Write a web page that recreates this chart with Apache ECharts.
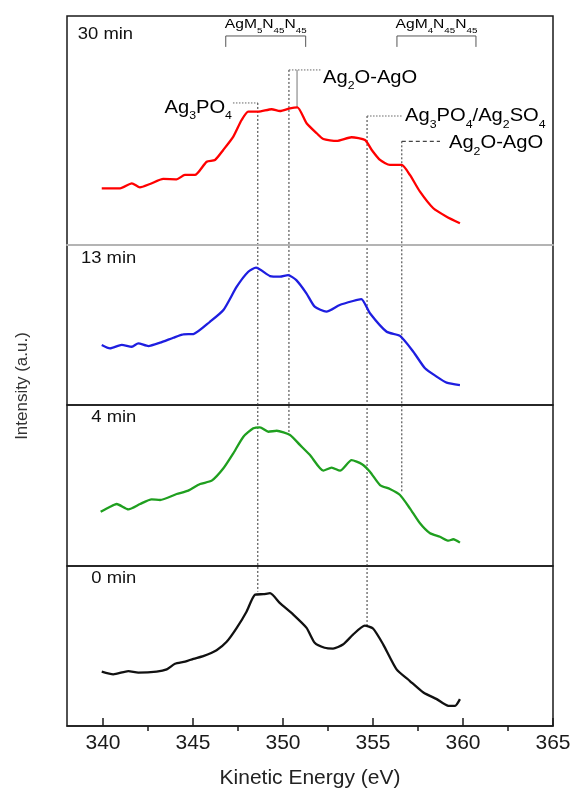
<!DOCTYPE html>
<html><head><meta charset="utf-8">
<script src="https://cdn.jsdelivr.net/npm/echarts@6/dist/echarts.min.js"></script>
<style>html,body{margin:0;padding:0;background:#fff}#c{width:574px;height:790px}</style>
</head><body><div id="c"></div>
<script>
// ---- data (kinetic energy in eV, intensity in a.u. per panel) ----
const energy30 = [339.93,340.95,341.6,342.05,342.61,343.35,344.09,344.55,345.11,345.76,346.22,346.68,347.24,347.7,348.07,348.63,349.37,349.83,350.39,350.8,351.31,351.87,352.24,352.98,353.81,354.56,354.93,355.39,355.94,356.59,357.05,357.61,358.35,359.09,359.83];
const intensity30 = [35.2,35.2,38.3,35.8,37.9,41,40.8,43.5,43.5,51.7,52.8,59,67.3,77.6,82.8,82.8,84.3,83.2,84.9,85.5,75.6,69.4,65.8,64.6,66.9,65.2,59,52.8,49.7,49.7,43.5,33.1,22.8,17.6,13.5];
const energy13 = [339.93,340.39,341.04,341.6,341.96,342.52,343.17,343.91,344.46,345.02,345.94,346.69,347.43,348.07,348.5,349.28,349.83,350.28,350.74,351.3,351.76,352.41,353.15,353.89,354.35,354.83,355.76,356.5,357.24,357.89,358.54,359.09,359.83];
const intensity13 = [37.3,35.2,37.3,36.2,38.3,36.6,38.7,41.8,43.9,44.1,51.7,59,73.5,82.8,85.3,80.1,79.7,80.7,77.6,69.4,61.1,58,62.1,64.6,65.8,57,45.5,42.9,33.1,22.8,17.6,13.9,12.4];
const energy4 = [339.87,340.39,340.76,341.41,342.06,342.7,343.17,344.09,344.74,345.39,346.04,346.69,347.24,347.8,348.35,348.72,349.19,349.65,350.39,350.94,351.5,352.24,352.7,353.17,353.81,354.37,354.83,355.39,355.94,356.5,357.05,357.61,358.17,358.72,359.19,359.46,359.83];
const intensity4 = [33.7,36.8,38.5,35.2,38.5,41.4,41,44.7,46.8,50.9,53,60.7,70,80.3,85.5,86.1,83.4,84,81.4,75.2,68.9,59.2,61.1,59.2,65.8,63.4,58.6,50.3,47.8,44.1,35.8,26.5,20.3,18.2,15.7,16.6,14.5];
const energy0 = [339.93,340.57,341.41,341.96,342.98,343.54,344.0,344.56,345.02,345.57,346.31,346.87,347.43,347.98,348.44,348.91,349.28,349.83,350.57,351.31,351.76,352.31,352.78,353.33,353.89,354.54,355.0,355.57,356.31,357.05,357.8,358.54,359.19,359.56,359.83];
const intensity0 = [34,32.3,34.3,33.4,34,35.4,38.9,40.2,42,43.7,47.4,52.6,61.3,71.6,82,82.4,83,76.8,69.6,61.3,52,48.9,48.4,50.9,57.1,62.7,60.9,50.9,35.4,28.1,20.9,16.8,12.6,12.6,16.8];

const panelNames = ['30 min','13 min','4 min','0 min'];
const xTicks = [340,345,350,355,360,365];
const xMinorTicks = [342.5,347.5,352.5,357.5,362.5];
const xMin = 338, xMax = 365;
const yMax = [142.2, 99.4, 100, 100];

// annotation positions (data units)
const dropE = [348.6, 350.33, 354.67, 356.6];
const dropTopY = [88.2, 108.7, 80.1, 64.4];
const dropEndPanel = [3, 2, 3, 2];
const dropEndY = [84, 82.6, 62.7, 45.3];
const leaderFromE = [347.22, 350.33, 354.67, 356.6];
const leaderToE = [348.6, 352.11, 356.67, 358.72];
const phaseLabels = ['{m|Ag}{s|3}{m|PO}{s|4}', '{m|Ag}{s|2}{m|O-AgO}', '{m|Ag}{s|3}{m|PO}{s|4}{m|/Ag}{s|2}{m|SO}{s|4}', '{m|Ag}{s|2}{m|O-AgO}'];
const peakMarkE = 350.78, peakMarkTop = 108.7, peakMarkBottom = 85.7;
const bracketRanges = [[346.82, 351.26], [356.33, 360.72]];
const bracketY = 129.8, bracketEndY = 123, bracketLabelY = 136.6;
const bracketLabels = ['{m|AgM}{s|5}{m|N}{s|45}{m|N}{s|45}', '{m|AgM}{s|4}{m|N}{s|45}{m|N}{s|45}'];
const panelLabelE = [338.6, 338.78, 339.35, 339.35];
const panelLabelY = [130.4, 90.7, 91.9, 91.9];

const energies = [energy30, energy13, energy4, energy0];
const intensities = [intensity30, intensity13, intensity4, intensity0];
const colors = ['#ff0000', '#1e1ee0', '#1f9f1f', '#111111'];
const FONT = '"Liberation Sans", Arial, sans-serif';

const gridTops = [16, 245, 405, 566];
const gridHeights = [229, 160, 161, 161];

const grids = gridTops.map((t, i) => ({
  left: 67, right: 21, top: t, height: gridHeights[i],
  show: true, borderColor: '#1a1a1a', borderWidth: 1.5, backgroundColor: 'transparent', z: 0
}));

const xAxes = gridTops.map((t, i) => {
  const base = {
    gridIndex: i, type: 'value', min: xMin, max: xMax,
    splitLine: {show: false}, axisTick: {show: false}, axisLabel: {show: false},
    axisLine: {show: false}
  };
  if (i === 0) {
    base.axisLine = {show: true, lineStyle: {color: '#b4b4b4', width: 2}};
    base.z = 5;
  }
  if (i === 3) {
    base.axisLine = {show: true, onZero: false, lineStyle: {color: '#1a1a1a', width: 1.5}};
    base.axisTick = {show: true, inside: true, length: 8, customValues: xTicks, lineStyle: {color: '#1a1a1a', width: 1.5}};
    base.axisLabel = {show: true, customValues: xTicks, fontSize: 21, color: '#1a1a1a', margin: 7, fontFamily: FONT};
    base.name = 'Kinetic Energy (eV)';
    base.nameLocation = 'middle';
    base.nameGap = 42;
    base.nameTextStyle = {fontSize: 21, color: '#222', fontFamily: FONT};
  }
  return base;
});
xAxes.push({
  gridIndex: 3, type: 'value', min: xMin, max: xMax,
  splitLine: {show: false}, axisLine: {show: false}, axisLabel: {show: false},
  axisTick: {show: true, inside: true, length: 5, customValues: xMinorTicks, lineStyle: {color: '#1a1a1a', width: 1.5}}
});

const yAxes = gridTops.map((t, i) => ({
  gridIndex: i, type: 'value', min: 0, max: yMax[i], show: false
}));

const series = energies.map((e, i) => ({
  type: 'line', xAxisIndex: i, yAxisIndex: i, showSymbol: false, symbol: 'none', smooth: 0.2,
  data: e.map((x, k) => [x, intensities[i][k]]),
  lineStyle: {color: colors[i], width: 2.3}, z: 3, animation: false
}));

const chart = echarts.init(document.getElementById('c'), null, {renderer: 'canvas'});
chart.setOption({
  animation: false,
  backgroundColor: '#fff',
  grid: grids, xAxis: xAxes, yAxis: yAxes, series: series
});

const P = (g, x, y) => chart.convertToPixel({seriesIndex: g}, [x, y]);
const g = [];
const dotted = {stroke: '#333', lineWidth: 1, lineDash: [2, 2]};

// vertical drop lines
dropE.forEach((e, i) => {
  const a = P(0, e, dropTopY[i]);
  const b = P(dropEndPanel[i], e, dropEndY[i]);
  g.push({type: 'line', shape: {x1: a[0], y1: a[1], x2: b[0], y2: b[1]}, style: dotted, z: 1, silent: true});
});
// leaders
leaderFromE.forEach((e, i) => {
  const a = P(0, e, dropTopY[i]);
  const b = P(0, leaderToE[i], dropTopY[i]);
  const st = i === 3 ? {stroke: '#444', lineWidth: 1.2, lineDash: [4, 3]} : {stroke: '#666', lineWidth: 1, lineDash: [1.5, 1.5]};
  g.push({type: 'line', shape: {x1: a[0], y1: a[1], x2: b[0], y2: b[1]}, style: st, z: 1, silent: true});
});
{
  const a = P(0, peakMarkE, peakMarkTop), b = P(0, peakMarkE, peakMarkBottom);
  g.push({type: 'line', shape: {x1: a[0], y1: a[1], x2: b[0], y2: b[1]}, style: {stroke: '#777', lineWidth: 1}, z: 1, silent: true});
}
// phase labels
const richBig = {
  m: {fontSize: 18, fontFamily: FONT, lineHeight: 18, verticalAlign: 'top', color: '#1a1a1a'},
  s: {fontSize: 11, fontFamily: FONT, lineHeight: 10, verticalAlign: 'top', padding: [12, 0, 0, 0], color: '#1a1a1a'}
};
const labelDy = [5, 8, 0, 2];
phaseLabels.forEach((txt, i) => {
  let p, align;
  if (i === 0) { p = P(0, leaderFromE[i], dropTopY[i]); p[0] -= 1; align = 'right'; }
  else { p = P(0, leaderToE[i], dropTopY[i]); p[0] += (i === 3 ? 9 : 2); align = 'left'; }
  g.push({type: 'text', x: p[0], y: p[1] + labelDy[i], scaleX: 1.12, z: 4, silent: true,
    style: {text: txt, rich: richBig, align: align, verticalAlign: 'middle'}});
});
// brackets
const richSmall = {
  m: {fontSize: 12, fontFamily: FONT, lineHeight: 12, verticalAlign: 'top', color: '#333'},
  s: {fontSize: 7.5, fontFamily: FONT, lineHeight: 7, verticalAlign: 'top', padding: [8, 0, 0, 0], color: '#333'}
};
bracketRanges.forEach((r, i) => {
  const a = P(0, r[0], bracketEndY), b = P(0, r[0], bracketY), c = P(0, r[1], bracketY), d = P(0, r[1], bracketEndY);
  g.push({type: 'polyline', shape: {points: [a, b, c, d]}, style: {stroke: '#555', lineWidth: 1, fill: null}, z: 1, silent: true});
  const m = P(0, (r[0] + r[1]) / 2, bracketLabelY);
  g.push({type: 'text', x: m[0], y: m[1], scaleX: 1.3, z: 4, silent: true,
    style: {text: bracketLabels[i], rich: richSmall, align: 'center', verticalAlign: 'middle'}});
});
// panel names
panelNames.forEach((n, i) => {
  const p = P(i, panelLabelE[i], panelLabelY[i]);
  g.push({type: 'text', x: p[0], y: p[1], scaleX: 1.15, z: 4, silent: true,
    style: {text: n, font: '16px ' + FONT, fill: '#111', align: 'left', verticalAlign: 'middle'}});
});
// y axis title
g.push({type: 'text', x: 22, y: 386, rotation: Math.PI / 2, z: 4, silent: true,
  style: {text: 'Intensity (a.u.)', font: '17px ' + FONT, fill: '#333', align: 'center', verticalAlign: 'middle'}});

chart.setOption({graphic: g});
</script>
</body></html>
